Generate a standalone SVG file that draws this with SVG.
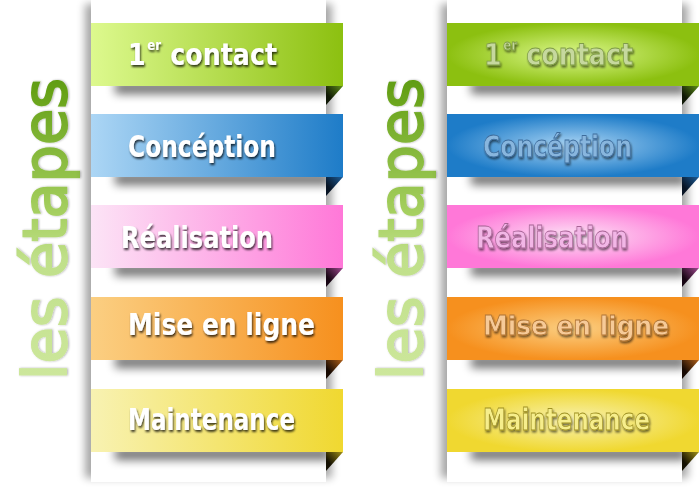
<svg xmlns="http://www.w3.org/2000/svg" width="700" height="490" viewBox="0 0 700 490">
<defs>
<style>
.lbl{font-family:"DejaVu Sans","Liberation Sans",sans-serif;font-size:30px;font-weight:bold;}
.lw{fill:#ffffff;filter:url(#tsh);}
.vt{font-family:"DejaVu Sans","Liberation Sans",sans-serif;font-size:60px;fill:url(#gTitle);stroke:url(#gTitle);stroke-width:2;filter:url(#vsh);}
.strip{fill:#ffffff;}
.stripSh{fill:#000;opacity:0.35;filter:url(#bl4);}
.rsh{fill:#000;opacity:0.55;filter:url(#bl5);}
</style>
<filter id="tsh" x="-10%" y="-30%" width="120%" height="160%"><feDropShadow dx="1" dy="2" stdDeviation="1" flood-color="#000" flood-opacity="0.75"/></filter>
<filter id="tsh2" x="-10%" y="-30%" width="120%" height="160%"><feDropShadow dx="1" dy="2" stdDeviation="1.2" flood-color="#000" flood-opacity="0.55"/></filter>
<filter id="vsh" x="-10%" y="-30%" width="120%" height="160%"><feDropShadow dx="0" dy="1" stdDeviation="1" flood-color="#000" flood-opacity="0.3"/></filter>
<filter id="bl4" x="-20%" y="-20%" width="140%" height="140%"><feGaussianBlur stdDeviation="4"/></filter>
<filter id="bl5" x="-20%" y="-100%" width="140%" height="300%"><feGaussianBlur stdDeviation="5"/></filter>
<linearGradient id="gTitle" x1="0" y1="0" x2="1" y2="0">
<stop offset="0" stop-color="#cde79c"/><stop offset="0.4" stop-color="#c0e08a"/><stop offset="0.55" stop-color="#a6d060"/><stop offset="1" stop-color="#5f9c10"/>
</linearGradient>
<linearGradient id="lg1"><stop offset="0" stop-color="#ddf98e"/><stop offset="1" stop-color="#8cc010"/></linearGradient>
<linearGradient id="lg2"><stop offset="0" stop-color="#acd6f5"/><stop offset="1" stop-color="#1e7cc8"/></linearGradient>
<linearGradient id="lg3"><stop offset="0" stop-color="#fce4f6"/><stop offset="1" stop-color="#ff78d8"/></linearGradient>
<linearGradient id="lg4"><stop offset="0" stop-color="#fbcf82"/><stop offset="1" stop-color="#f6901e"/></linearGradient>
<linearGradient id="lg5"><stop offset="0" stop-color="#f8f2b2"/><stop offset="1" stop-color="#f0d830"/></linearGradient>
<radialGradient id="rg1"><stop offset="0" stop-color="#ddf98e"/><stop offset="1" stop-color="#8cc010"/></radialGradient>
<radialGradient id="rg2"><stop offset="0" stop-color="#acd6f5"/><stop offset="1" stop-color="#1e7cc8"/></radialGradient>
<radialGradient id="rg3"><stop offset="0" stop-color="#fce4f6"/><stop offset="1" stop-color="#ff78d8"/></radialGradient>
<radialGradient id="rg4"><stop offset="0" stop-color="#fbcf82"/><stop offset="1" stop-color="#f6901e"/></radialGradient>
<radialGradient id="rg5"><stop offset="0" stop-color="#f8f2b2"/><stop offset="1" stop-color="#f0d830"/></radialGradient>
<linearGradient id="f1" x1="0" y1="1" x2="1" y2="0"><stop offset="0.3" stop-color="#101806"/><stop offset="1" stop-color="#5e8e18"/></linearGradient>
<linearGradient id="f2" x1="0" y1="1" x2="1" y2="0"><stop offset="0.3" stop-color="#081424"/><stop offset="1" stop-color="#1c5c98"/></linearGradient>
<linearGradient id="f3" x1="0" y1="1" x2="1" y2="0"><stop offset="0.3" stop-color="#180614"/><stop offset="1" stop-color="#a04a90"/></linearGradient>
<linearGradient id="f4" x1="0" y1="1" x2="1" y2="0"><stop offset="0.3" stop-color="#180a02"/><stop offset="1" stop-color="#b06018"/></linearGradient>
<linearGradient id="f5" x1="0" y1="1" x2="1" y2="0"><stop offset="0.3" stop-color="#141002"/><stop offset="1" stop-color="#a09018"/></linearGradient>
<clipPath id="cL"><rect x="91" y="0" width="235" height="490"/></clipPath>
<clipPath id="cR"><rect x="447" y="0" width="235" height="490"/></clipPath>
</defs>

<!-- left panel -->
<g id="titleL">
<text class="vt" transform="translate(66,380) rotate(-90)" textLength="302" lengthAdjust="spacingAndGlyphs">les étapes</text>
</g>
<g id="stripL">
<rect class="stripSh" x="85" y="4" width="247" height="474"/>
<rect class="strip" x="91" y="0" width="235" height="482"/>
<g clip-path="url(#cL)">
<rect class="rsh" x="115" y="82" width="215" height="12"/>
<rect class="rsh" x="115" y="173" width="215" height="12"/>
<rect class="rsh" x="115" y="264" width="215" height="12"/>
<rect class="rsh" x="115" y="356" width="215" height="12"/>
<rect class="rsh" x="115" y="448" width="215" height="12"/>
</g>
</g>
<g id="L1"><polygon points="326,86 343,86 326,105" fill="url(#f1)"/><rect x="91" y="23" width="252" height="63" fill="url(#lg1)"/>
<text class="lbl lw" x="128" y="65" textLength="149" lengthAdjust="spacingAndGlyphs">1<tspan font-size="14" dx="2" dy="-15">er </tspan><tspan dx="6" dy="15">contact</tspan></text></g>
<g id="L2"><polygon points="326,177 343,177 326,196" fill="url(#f2)"/><rect x="91" y="114" width="252" height="63" fill="url(#lg2)"/>
<text class="lbl lw" x="128" y="157" textLength="148" lengthAdjust="spacingAndGlyphs">Concéption</text></g>
<g id="L3"><polygon points="326,268 343,268 326,287" fill="url(#f3)"/><rect x="91" y="205" width="252" height="63" fill="url(#lg3)"/>
<text class="lbl lw" x="121" y="248" textLength="152" lengthAdjust="spacingAndGlyphs">Réalisation</text></g>
<g id="L4"><polygon points="326,360 343,360 326,379" fill="url(#f4)"/><rect x="91" y="297" width="252" height="63" fill="url(#lg4)"/>
<text class="lbl lw" x="128" y="335" textLength="187" lengthAdjust="spacingAndGlyphs">Mise en ligne</text></g>
<g id="L5"><polygon points="326,452 343,452 326,471" fill="url(#f5)"/><rect x="91" y="389" width="252" height="63" fill="url(#lg5)"/>
<text class="lbl lw" x="128" y="430" textLength="167" lengthAdjust="spacingAndGlyphs">Maintenance</text></g>

<!-- right panel -->
<g id="titleR">
<text class="vt" transform="translate(422,380) rotate(-90)" textLength="302" lengthAdjust="spacingAndGlyphs">les étapes</text>
</g>
<g id="stripR">
<rect class="stripSh" x="441" y="4" width="247" height="474"/>
<rect class="strip" x="447" y="0" width="235" height="482"/>
<g clip-path="url(#cR)">
<rect class="rsh" x="471" y="82" width="215" height="12"/>
<rect class="rsh" x="471" y="173" width="215" height="12"/>
<rect class="rsh" x="471" y="264" width="215" height="12"/>
<rect class="rsh" x="471" y="356" width="215" height="12"/>
<rect class="rsh" x="471" y="448" width="215" height="12"/>
</g>
</g>
<g id="R1"><polygon points="682,86 699,86 682,105" fill="url(#f1)"/><rect x="447" y="23" width="252" height="63" fill="url(#rg1)"/>
<text class="lbl" x="484" y="65" textLength="149" lengthAdjust="spacingAndGlyphs" fill="#c6d89e" stroke="#7f9c48" stroke-width="0.8" filter="url(#tsh2)">1<tspan font-size="14" dx="2" dy="-15">er </tspan><tspan dx="6" dy="15">contact</tspan></text></g>
<g id="R2"><polygon points="682,177 699,177 682,196" fill="url(#f2)"/><rect x="447" y="114" width="252" height="63" fill="url(#rg2)"/>
<text class="lbl" x="483" y="157" textLength="149" lengthAdjust="spacingAndGlyphs" fill="#88b6de" stroke="#3e6c9c" stroke-width="0.8" filter="url(#tsh2)">Concéption</text></g>
<g id="R3"><polygon points="682,268 699,268 682,287" fill="url(#f3)"/><rect x="447" y="205" width="252" height="63" fill="url(#rg3)"/>
<text class="lbl" x="476" y="248" textLength="152" lengthAdjust="spacingAndGlyphs" fill="#f2b6e6" stroke="#a86496" stroke-width="0.8" filter="url(#tsh2)">Réalisation</text></g>
<g id="R4"><polygon points="682,360 699,360 682,379" fill="url(#f4)"/><rect x="447" y="297" width="252" height="63" fill="url(#rg4)"/>
<text class="lbl" x="483" y="335" font-size="27" textLength="186" lengthAdjust="spacingAndGlyphs" fill="#f6ca98" stroke="#b07434" stroke-width="0.8" filter="url(#tsh2)" style="font-size:27px">Mise en ligne</text></g>
<g id="R5"><polygon points="682,452 699,452 682,471" fill="url(#f5)"/><rect x="447" y="389" width="252" height="63" fill="url(#rg5)"/>
<text class="lbl" x="483" y="430" textLength="167" lengthAdjust="spacingAndGlyphs" fill="#f6ee8c" stroke="#a09224" stroke-width="0.8" filter="url(#tsh2)">Maintenance</text></g>
<g id="connectors"/>
</svg>
